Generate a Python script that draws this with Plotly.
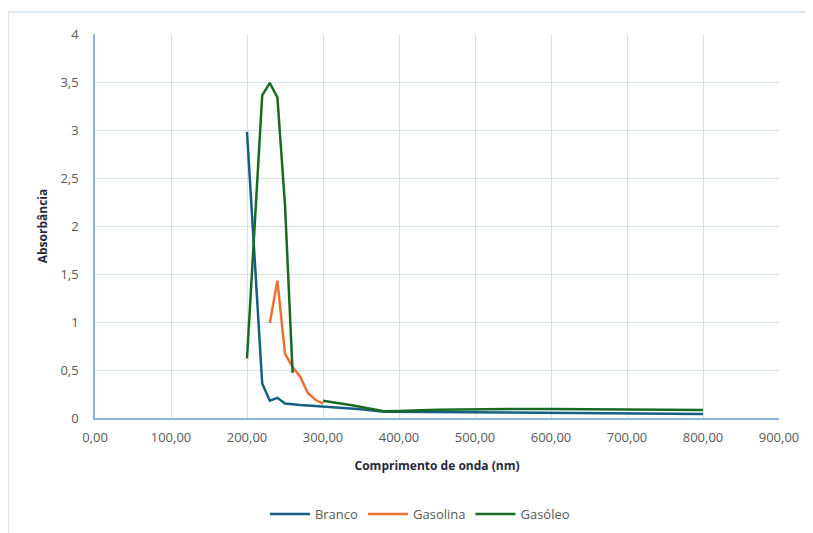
import plotly.graph_objects as go

branco_x = [200, 220, 230, 240, 250, 260, 270, 280, 290, 300, 350, 380, 400, 450, 500, 550, 600, 650, 700, 750, 800]
branco_y = [2.98, 0.36, 0.18, 0.21, 0.15, 0.14, 0.135, 0.13, 0.125, 0.12, 0.09, 0.066, 0.065, 0.058, 0.055, 0.055, 0.055, 0.045, 0.042, 0.042, 0.042]

gasolina_x = [230, 240, 250, 260, 270, 280, 290, 300]
gasolina_y = [0.99, 1.43, 0.67, 0.53, 0.43, 0.26, 0.19, 0.15]

gasoleo_x = [200, 220, 230, 240, 250, 260, 270, 300, 340, 380, 400, 450, 500, 550, 600, 650, 680, 700, 750, 800]
gasoleo_y = [0.62, 3.36, 3.49, 3.34, 2.22, 0.47, None, 0.18, 0.13, 0.07, 0.072, 0.085, 0.093, 0.094, 0.094, 0.092, 0.085, 0.083, 0.083, 0.083]

x_ticks = [0, 100, 200, 300, 400, 500, 600, 700, 800, 900]
y_ticks = [0, 0.5, 1, 1.5, 2, 2.5, 3, 3.5, 4]

FONT = "Open Sans, Roboto, DejaVu Sans, sans-serif"
GRID = "#d3e1f3"
AXIS = "#8fb3e0"

fig = go.Figure()
fig.add_trace(go.Scatter(x=branco_x, y=branco_y, mode="lines", name="Branco",
                         line=dict(color="#156082", width=2.5)))
fig.add_trace(go.Scatter(x=gasolina_x, y=gasolina_y, mode="lines", name="Gasolina",
                         line=dict(color="#E97132", width=2.5)))
fig.add_trace(go.Scatter(x=gasoleo_x, y=gasoleo_y, mode="lines", name="Gasóleo",
                         line=dict(color="#196B24", width=2.5), connectgaps=False))

fig.update_layout(
    width=813, height=533,
    margin=dict(l=87, r=42, t=26, b=123, autoexpand=False),
    paper_bgcolor="white", plot_bgcolor="white",
    separators=",.",
    font=dict(family=FONT, color="#595959", size=13),
    showlegend=True,
    legend=dict(orientation="h", xref="paper", x=0.475, xanchor="center",
                yref="container", y=0.0507, yanchor="middle",
                font=dict(size=13, color="#595959"), itemwidth=40),
    xaxis=dict(range=[0, 900], tickvals=x_ticks, tickformat=".2f",
               showgrid=True, gridcolor=GRID, gridwidth=1,
               showline=True, linecolor=AXIS, linewidth=1.5, zeroline=False,
               mirror=False, ticks="", ticklabelstandoff=7,
               title=dict(text="<b>Comprimento de onda (nm)</b>", standoff=16,
                          font=dict(size=12, color="#1f2a3c"))),
    yaxis=dict(range=[0, 4], tickvals=y_ticks,
               showgrid=True, gridcolor=GRID, gridwidth=1,
               showline=True, linecolor=AXIS, linewidth=1.5, zeroline=False,
               ticks="", ticklabelstandoff=12,
               title=dict(text="<b>Absorbância</b>", standoff=10,
                          font=dict(size=12, color="#1f2a3c"))),
    shapes=[
        dict(type="rect", xref="paper", yref="paper",
             x0=(7 - 94) / 684, x1=1.2, y0=-0.5, y1=(418 - 12) / 384,
             line=dict(color="#d0dff2", width=1.5), fillcolor="rgba(0,0,0,0)", layer="below"),
    ],
)

fig.write_html("out.html")
